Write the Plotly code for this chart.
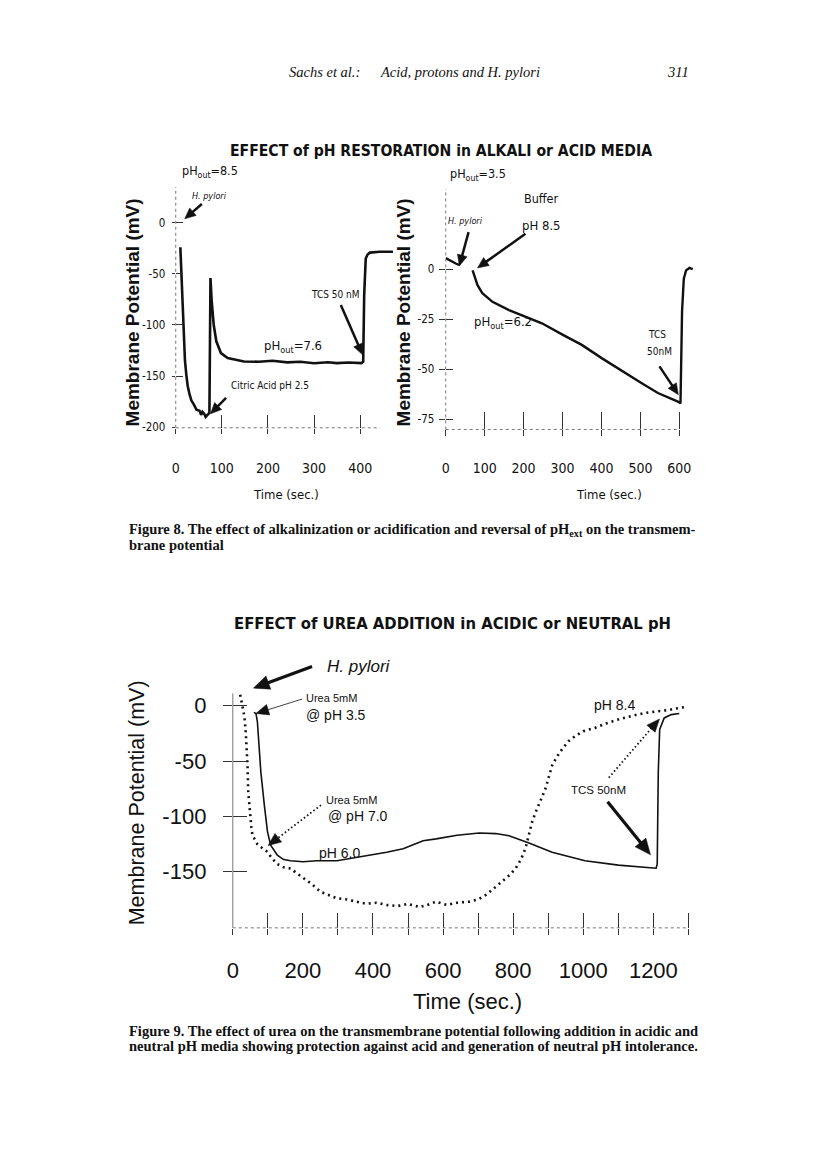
import plotly.graph_objects as go

# ---------------- data (read from the scanned page) ----------------
# Figure 8, left panel: pH_out 8.5 -> H. pylori -> citric acid -> TCS
f8l_time = [10, 12, 13.6, 17.2, 20, 23, 26, 30, 34, 39.4, 45, 51.6, 55, 58, 62, 65, 69.5, 73,
            75.3, 78, 82.4, 88, 98, 112.5, 130, 148, 180, 210, 241.6, 270, 300, 330, 349, 375,
            403, 406.5, 408.6, 412, 416, 421, 442, 471]
f8l_mv = [-24, -45, -71, -116, -135, -149, -160, -168, -174, -178, -183, -184, -188, -185, -187,
          -190, -188, -186, -54, -77, -100, -116, -127.5, -132.4, -134, -135.7, -136, -135,
          -136.6, -136, -137.5, -136.5, -137.3, -136.8, -137.3, -136, -71, -35, -31, -29.2,
          -28.4, -28.4]
# Figure 8, right panel: pH_out 3.5 -> buffer pH 8.5 -> TCS
f8r_time_a = [0, 9, 18, 27, 36]
f8r_mv_a = [5.5, 4.5, 3.6, 2.7, 2.0]
f8r_time_b = [69, 73, 81.6, 94, 120, 162.5, 205, 247, 301, 349.5, 400.5, 460, 502.5, 545, 579,
              597.7, 603, 604.6, 607, 611.5, 617.3, 626, 634.6]
f8r_mv_b = [-0.6, -3, -8, -12, -16.3, -20.4, -23.7, -27, -32.8, -37.8, -44.4, -51.8, -56.8,
            -61.8, -64.6, -66.2, -67, -46, -21, -4.7, -0.6, 0.6, 0]
# Figure 9: urea @ pH 3.5 (solid) and urea @ pH 7.0 (dotted)
f9_solid_time = [60, 66, 70, 74, 80, 90, 99, 108, 127, 145, 165, 200, 240, 297, 353, 400, 439,
                 486, 543, 580, 640, 703, 750, 788, 845, 911, 1005, 1100, 1160, 1208, 1211,
                 1214, 1218, 1231, 1251, 1274]
f9_solid_mv = [-6, -7, -14, -30, -60, -90, -114, -126, -135, -139, -140, -141, -140, -140, -137,
               -135, -132.4, -129.3, -122, -120.3, -117, -115, -115.5, -117.4, -124, -132.4,
               -140, -144, -145.5, -146.8, -143, -60, -21.4, -11, -8, -7]
f9_dot_time = [21, 28, 33, 37, 40, 42, 44, 47, 49.6, 53, 56, 62, 70, 85, 98.6, 112, 127, 145,
               165, 185, 202.5, 225, 250, 275, 297, 325, 353.6, 380, 410, 438.5, 470, 500, 533,
               555, 580, 610, 640, 675, 700, 722, 745, 769, 790, 807, 822, 835, 845, 854, 863,
               873, 883, 892, 902, 911, 925, 940, 958, 977, 1000, 1033, 1065, 1100, 1140, 1175,
               1210, 1241, 1265, 1288]
f9_dot_mv = [10, -0.5, -9.5, -24.5, -39, -54, -78, -92, -102, -110, -117, -121, -125, -129, -132,
             -138, -143, -146, -147, -152, -156, -161, -168, -171, -174, -175, -177, -179, -178,
             -180, -181, -179, -182, -180, -177, -180, -178, -177, -175, -171, -165, -159, -153,
             -147, -139, -129, -117, -105, -97, -90, -82, -75, -64, -54, -46, -39, -32, -27.4,
             -23, -20, -16, -12.4, -9, -6.5, -5, -4, -2.5, -1.3]

# tick values / labels
f8l_xticks = [0, 100, 200, 300, 400]
f8l_yticks = [0, -50, -100, -150, -200]
f8r_xticks = [0, 100, 200, 300, 400, 500, 600]
f8r_yticks = [0, -25, -50, -75]
f9_xticks = [0, 200, 400, 600, 800, 1000, 1200]
f9_xticks_minor = [100, 300, 500, 700, 900, 1100, 1300]
f9_yticks = [0, -50, -100, -150]

# ---------------- styling ----------------
W, H = 816, 1155
NARROW = "Liberation Sans Narrow, Arial Narrow, DejaVu Sans Condensed, sans-serif"
ARIAL = "Liberation Sans, Arial, sans-serif"
SERIF = "Liberation Serif, Times New Roman, serif"
INK = "#111111"
AXC = "#777777"


def px(x):
    return x / W


def py(y):
    return 1 - y / H


panels = {
    1: dict(xd=(171, 394), yd=(430, 188), xr=(0, 480), yr=(-200.6, 35)),
    2: dict(xd=(443, 694), yd=(431.7, 190), xr=(0, 640), yr=(-80, 40)),
    3: dict(xd=(228.5, 691), yd=(932.7, 697), xr=(0, 1310), yr=(-200.7, 11.2)),
}


def to_px(p, xv, yv):
    d = panels[p]
    X = d["xd"][0] + (xv - d["xr"][0]) / (d["xr"][1] - d["xr"][0]) * (d["xd"][1] - d["xd"][0])
    Y = d["yd"][0] + (yv - d["yr"][0]) / (d["yr"][1] - d["yr"][0]) * (d["yd"][1] - d["yd"][0])
    return X, Y


fig = go.Figure()
layout = {}


def setup_axes(p, xtv, xtt, ytv, ytt, xout, xin, yout, yin, xfont, yfont, xstand, ystand,
               xminor=None):
    d = panels[p]
    xn = "x" if p == 1 else f"x{p}"
    yn = "y" if p == 1 else f"y{p}"
    common = dict(showgrid=False, zeroline=False, showline=False, tickcolor="#333",
                  tickwidth=1, fixedrange=True)
    xa = dict(domain=[px(d["xd"][0]), px(d["xd"][1])], range=list(d["xr"]), anchor=yn,
              tickmode="array", tickvals=xtv, ticktext=xtt, ticks="outside", ticklen=xout,
              tickfont=xfont, ticklabelstandoff=xstand, **common)
    if xminor:
        xa["minor"] = dict(tickmode="array", tickvals=xminor, ticks="outside", ticklen=xout,
                           tickcolor="#333", tickwidth=1, showgrid=False)
    layout["xaxis" if p == 1 else f"xaxis{p}"] = xa
    layout["yaxis" if p == 1 else f"yaxis{p}"] = dict(
        domain=[py(d["yd"][0]), py(d["yd"][1])], range=list(d["yr"]), anchor=xn,
        tickmode="array", tickvals=ytv, ticktext=ytt, ticks="outside", ticklen=yout,
        tickfont=yfont, ticklabelstandoff=ystand, **common)
    o = p + 3
    inside_x = sorted(list(xtv) + list(xminor or []))
    layout[f"xaxis{o}"] = dict(overlaying=xn, anchor=yn, range=list(d["xr"]),
                               tickmode="array", tickvals=inside_x, ticks="inside", ticklen=xin,
                               showticklabels=False, **common)
    layout[f"yaxis{o}"] = dict(overlaying=yn, anchor=xn, range=list(d["yr"]),
                               tickmode="array", tickvals=ytv, ticks="inside", ticklen=yin,
                               showticklabels=False, **common)
    fig.add_trace(go.Scatter(x=[None], y=[None], xaxis=f"x{o}", yaxis=yn, showlegend=False,
                             hoverinfo="skip"))
    fig.add_trace(go.Scatter(x=[None], y=[None], xaxis=xn, yaxis=f"y{o}", showlegend=False,
                             hoverinfo="skip"))
    return xn, yn


f8_xfont = dict(family=NARROW, size=14, color=INK)
f8_yfont = dict(family=NARROW, size=11.5, color=INK)
f9_font = dict(family=ARIAL, size=22, color=INK)

x1, y1 = setup_axes(1, f8l_xticks, [str(v) for v in f8l_xticks], f8l_yticks,
                    [str(v) for v in f8l_yticks], 5, 13, 3, 7, f8_xfont, f8_yfont, 22, 4)
x2, y2 = setup_axes(2, f8r_xticks, [str(v) for v in f8r_xticks], f8r_yticks,
                    [str(v) for v in f8r_yticks], 6, 17, 6, 7, f8_xfont, f8_yfont, 20, 2)
x3, y3 = setup_axes(3, f9_xticks, [str(v) for v in f9_xticks], f9_yticks,
                    [str(v) for v in f9_yticks], 6, 15, 9, 14, f9_font, f9_font, 17, 12,
                    xminor=f9_xticks_minor)

# ---------------- curves ----------------
fig.add_trace(go.Scatter(x=f8l_time, y=f8l_mv, mode="lines", xaxis=x1, yaxis=y1,
                         line=dict(color=INK, width=2.6), showlegend=False))
fig.add_trace(go.Scatter(x=f8r_time_a, y=f8r_mv_a, mode="lines", xaxis=x2, yaxis=y2,
                         line=dict(color=INK, width=2.4), showlegend=False))
fig.add_trace(go.Scatter(x=f8r_time_b, y=f8r_mv_b, mode="lines", xaxis=x2, yaxis=y2,
                         line=dict(color=INK, width=2.4), showlegend=False))
fig.add_trace(go.Scatter(x=f9_solid_time, y=f9_solid_mv, mode="lines", xaxis=x3, yaxis=y3,
                         line=dict(color=INK, width=1.6), showlegend=False))
fig.add_trace(go.Scatter(x=f9_dot_time, y=f9_dot_mv, mode="lines", xaxis=x3, yaxis=y3,
                         line=dict(color=INK, width=2.6, dash="2px,4px"), showlegend=False))

# ---------------- axis lines (drawn as shapes so they can be dotted) ----------------
shapes = []


def pline(a, b, color=AXC, width=1, dash="solid"):
    shapes.append(dict(type="line", xref="paper", yref="paper", x0=px(a[0]), y0=py(a[1]),
                       x1=px(b[0]), y1=py(b[1]), line=dict(color=color, width=width, dash=dash)))


for p, xend, ydash in [(1, 443, "dot"), (2, 600, "dot"), (3, 1300, "solid")]:
    d = panels[p]
    pline(to_px(p, 0, d["yr"][0]), to_px(p, 0, d["yr"][1]), dash=ydash)
    pline(to_px(p, 0, d["yr"][0]), to_px(p, xend, d["yr"][0]), dash="dot")

# ---------------- text and arrows ----------------
ann = []


def txt(s, x, y, size, family=NARROW, xanchor="left", weight="normal", angle=0):
    ann.append(dict(text=s, x=px(x), y=py(y), xref="paper", yref="paper", showarrow=False,
                    xanchor=xanchor, yanchor="middle", textangle=angle,
                    font=dict(family=family, size=size, color=INK, weight=weight)))


def arrow(tail, head, width=2.5, hl=11, hw=5, dash="solid"):
    dx, dy = tail[0] - head[0], tail[1] - head[1]
    n = (dx * dx + dy * dy) ** 0.5
    ux, uy = dx / n, dy / n
    base = (head[0] + ux * (hl - 1), head[1] + uy * (hl - 1))
    pline(tail, base, color=INK, width=width, dash=dash)
    bx, by = head[0] + ux * hl, head[1] + uy * hl
    v1 = (bx - uy * hw, by + ux * hw)
    v2 = (bx + uy * hw, by - ux * hw)
    path = (f"M {px(head[0])},{py(head[1])} L {px(v1[0])},{py(v1[1])} "
            f"L {px(v2[0])},{py(v2[1])} Z")
    shapes.append(dict(type="path", xref="paper", yref="paper", path=path, fillcolor=INK,
                       line=dict(color=INK, width=0.5)))


# page header
txt("<i>Sachs et al.:</i>", 283, 72, 14.5, SERIF)
txt("<i>Acid, protons and H. pylori</i>", 375, 72, 14.5, SERIF)
txt("<i>311</i>", 690, 72, 14.5, SERIF, xanchor="right")

# Figure 8
txt("EFFECT of pH RESTORATION in ALKALI or ACID MEDIA", 438, 152, 15.6, NARROW,
    xanchor="center", weight="bold")
txt("pH<sub>out</sub>=8.5", 175, 172, 12.5)
txt("<i>H. pylori</i>", 185, 197, 9)
arrow((197.3, 205), (180, 220))
txt("TCS 50 nM", 305, 296, 10)
arrow((337.3, 306.7), (359.3, 356.7))
txt("pH<sub>out</sub>=7.6", 258, 348, 13)
txt("Citric Acid pH 2.5", 225, 388, 10)
arrow((221.7, 400), (206, 416))
txt("Membrane Potential (mV)", 127, 314, 19, ARIAL, xanchor="center", weight="bold", angle=-90)
txt("Time (sec.)", 282, 497, 13, xanchor="center")

txt("pH<sub>out</sub>=3.5", 445, 175, 12.5)
txt("Buffer", 539.5, 200, 12.5, xanchor="center")
txt("pH 8.5", 539, 227, 13, xanchor="center")
txt("<i>H. pylori</i>", 443, 222, 9)
arrow((466, 233.3), (456.7, 267.3))
arrow((523.3, 235), (475, 269.3))
txt("pH<sub>out</sub>=6.2", 469, 324, 13)
txt("TCS", 655.5, 336, 10, xanchor="center")
txt("50nM", 658, 353, 10, xanchor="center")
arrow((658.3, 368.3), (677.3, 396.7))
txt("Membrane Potential (mV)", 400, 314, 19, ARIAL, xanchor="center", weight="bold", angle=-90)
txt("Time (sec.)", 607.5, 497, 13, xanchor="center")

txt("Figure 8. The effect of alkalinization or acidification and reversal of pH<sub>ext</sub> "
    "on the transmem-", 121.5, 533, 14.5, SERIF, weight="bold")
txt("brane potential", 121.5, 548, 14.5, SERIF, weight="bold")

# Figure 9
txt("EFFECT of UREA ADDITION in ACIDIC or NEUTRAL pH", 450, 627, 16.5, NARROW,
    xanchor="center", weight="bold")
txt("<i>H. pylori</i>", 321.7, 670, 17, ARIAL)
arrow((308.3, 670), (249.3, 691.7), width=3.2, hl=16, hw=7)
txt("Urea 5mM", 300, 702, 11, ARIAL)
txt("@ pH 3.5", 300, 718.5, 14, ARIAL)
arrow((298.3, 702.7), (251.7, 717.3), width=0.8, hl=13, hw=5.5)
txt("Urea 5mM", 320, 804.5, 11, ARIAL)
txt("@ pH 7.0", 322.7, 820.5, 14, ARIAL)
arrow((317.3, 809.3), (264, 850), width=1.8, hl=13, hw=5.5, dash="1.5px,2.5px")
txt("pH 6.0", 313.3, 857.3, 14, ARIAL)
txt("pH 8.4", 590, 709, 14, ARIAL)
txt("TCS 50nM", 566.7, 794, 11.5, ARIAL)
arrow((607.3, 781.7), (658.3, 722.7), width=1.8, hl=13, hw=5.5, dash="1.5px,2.5px")
arrow((606, 806), (649.3, 859.3), width=3.2, hl=16, hw=7)
txt("Membrane Potential (mV)", 131.5, 807, 21.5, ARIAL, xanchor="center", angle=-90)
txt("Time (sec.)", 408, 1007, 22, ARIAL)

txt("Figure 9. The effect of urea on the transmembrane potential following addition in "
    "acidic and", 121.5, 1036, 14.5, SERIF, weight="bold")
txt("neutral pH media showing protection against acid and generation of neutral pH "
    "intolerance.", 121.5, 1051, 14.5, SERIF, weight="bold")

layout.update(width=W, height=H, margin=dict(l=0, r=0, t=0, b=0), paper_bgcolor="white",
              plot_bgcolor="rgba(0,0,0,0)", showlegend=False, shapes=shapes, annotations=ann)
fig.update_layout(**layout)
fig.write_html("out.html", config={"displayModeBar": False, "staticPlot": True},
               post_script="document.body.style.margin='0';document.body.style.overflow='hidden';")
